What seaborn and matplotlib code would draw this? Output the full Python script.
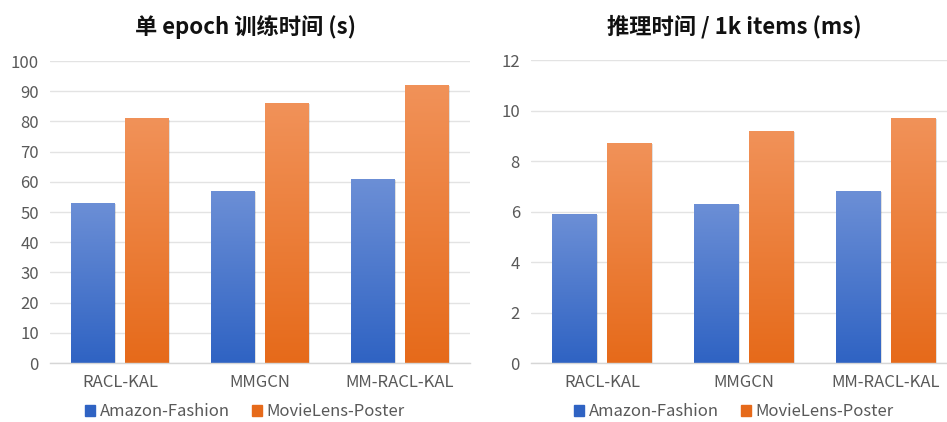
import numpy as np
import pandas as pd
import matplotlib
matplotlib.use("Agg")
import matplotlib.pyplot as plt
import matplotlib.patheffects as pe
from matplotlib.colors import LinearSegmentedColormap
import seaborn as sns

models = ["RACL-KAL", "MMGCN", "MM-RACL-KAL"]
datasets = ["Amazon-Fashion", "MovieLens-Poster"]
train_fashion = [53, 57, 61]
train_poster = [81, 86, 92]
infer_fashion = [5.9, 6.3, 6.8]
infer_poster = [8.7, 9.2, 9.7]

title_train = "单 epoch 训练时间 (s)"
title_infer = "推理时间 / 1k items (ms)"

sns.set_theme(style="white")
plt.rcParams["font.family"] = ["Noto Sans CJK SC", "DejaVu Sans"]

# top (light) -> bottom (dark) colours of each series' gradient
grad = {
    "Amazon-Fashion": ("#6c8fd6", "#2f63c3"),
    "MovieLens-Poster": ("#f19259", "#e66a1a"),
}
palette = {k: v[1] for k, v in grad.items()}
TICK = "#595959"
GRID = "#e3e3e3"


def long_table(a, b):
    return pd.DataFrame({
        "model": models * 2,
        "dataset": [datasets[0]] * 3 + [datasets[1]] * 3,
        "value": list(a) + list(b),
    })


def shade_bars(ax, df):
    # paint a vertical gradient inside every bar drawn by seaborn
    order = list(df["dataset"].unique())
    n = len(models)
    for i, patch in enumerate(ax.patches):
        if patch.get_height() <= 0:
            continue
        top, bottom = grad[order[i // n]]
        cmap = LinearSegmentedColormap.from_list("g", [bottom, top])
        x0, y0 = patch.get_x(), patch.get_y()
        w, h = patch.get_width(), patch.get_height()
        img = ax.imshow(np.linspace(0, 1, 256).reshape(-1, 1), cmap=cmap,
                        origin="lower", aspect="auto",
                        extent=[x0, x0 + w, y0, y0 + h], zorder=2.1,
                        interpolation="bicubic")
        img.set_clip_path(patch)
        patch.set_path_effects([pe.SimplePatchShadow(offset=(0.8, -0.8), alpha=0.12,
                                                     shadow_rgbFace="#000000"),
                                pe.Normal()])
        patch.set_edgecolor("none")
        patch.set_zorder(2)


def draw(ax, df, ymax, step, title, cx):
    sns.barplot(data=df, x="model", y="value", hue="dataset", palette=palette,
                width=0.77, gap=0.185, saturation=1, ax=ax, legend=False,
                order=models, hue_order=datasets)
    shade_bars(ax, df)
    ax.set_xlim(-0.5, len(models) - 0.5)
    ax.set_ylim(0, ymax)
    ax.set_yticks(np.arange(0, ymax + step / 2, step))
    ax.yaxis.grid(True, color=GRID, linewidth=1.0)
    ax.set_axisbelow(True)
    for s in ["top", "right", "left"]:
        ax.spines[s].set_visible(False)
    ax.spines["bottom"].set_color("#d6d6d6")
    ax.spines["bottom"].set_linewidth(1.0)
    ax.tick_params(axis="both", length=0, labelsize=12, colors=TICK, pad=8)
    ax.tick_params(axis="y", pad=8)
    ax.set_xlabel("")
    ax.set_ylabel("")
    fig.text(cx, 1 - 27 / 422, title, fontsize=16, fontweight="bold",
             color="#111111", ha="center", va="center")
    handles = [plt.Rectangle((0, 0), 1, 1, color=grad[d][1]) for d in datasets]
    fig.legend(handles, datasets, loc="center", bbox_to_anchor=(cx, 10 / 422),
               ncol=2, frameon=False, fontsize=12, handlelength=0.6,
               handleheight=0.6, handletextpad=0.3, columnspacing=1.3,
               labelcolor=TICK, borderpad=0.1)


fig = plt.figure(figsize=(9.47, 4.22), dpi=100)
ax1 = fig.add_axes([50 / 947, 0.1398, 420 / 947, 0.7156])
ax2 = fig.add_axes([531 / 947, 0.1398, 426 / 947, 0.7180])

draw(ax1, long_table(train_fashion, train_poster), 100, 10, title_train, 245 / 947)
draw(ax2, long_table(infer_fashion, infer_poster), 12, 2, title_infer, 734 / 947)

fig.savefig("out.png", dpi=100, facecolor="white")
